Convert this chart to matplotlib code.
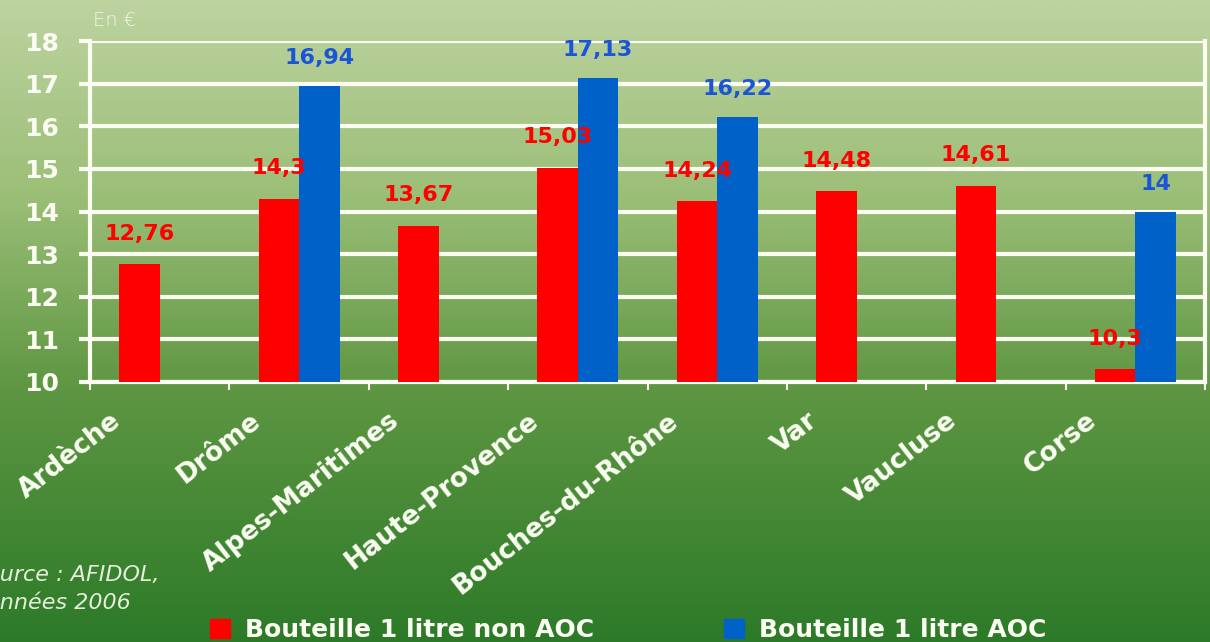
import numpy as np
import matplotlib.pyplot as plt
from matplotlib.colors import LinearSegmentedColormap
from matplotlib.patches import Patch

# Prix moyen d'une bouteille d'huile d'olive (en €) par département
departements = ['Ardèche', 'Drôme', 'Alpes-Maritimes', 'Haute-Provence',
                'Bouches-du-Rhône', 'Var', 'Vaucluse', 'Corse']
non_aoc = [12.76, 14.3, 13.67, 15.03, 14.24, 14.48, 14.61, 10.3]
aoc = [None, 16.94, None, 17.13, 16.22, None, None, 14]
non_aoc_labels = ['12,76', '14,3', '13,67', '15,03', '14,24', '14,48', '14,61', '10,3']
aoc_labels = [None, '16,94', None, '17,13', '16,22', None, None, '14']
y_ticks = [10, 11, 12, 13, 14, 15, 16, 17, 18]

RED = '#ff0000'
BLUE = '#0062c8'
WHITE = '#fbfdf2'

fig = plt.figure(figsize=(12.10, 6.42), dpi=100)

# Fond dégradé vert
bg = fig.add_axes([0, 0, 1, 1], zorder=-10)
cmap = LinearSegmentedColormap.from_list(
    'vert', [(0.0, '#bdd3a0'), (0.3, '#9cbf78'), (0.6, '#5f9743'), (1.0, '#2c7a28')])
grad = np.linspace(0, 1, 256).reshape(-1, 1)
bg.imshow(grad, aspect='auto', cmap=cmap, extent=[0, 1, 0, 1], origin='upper')
bg.axis('off')

ax = fig.add_axes([0.0744, 0.405, 0.9216, 0.531])
ax.patch.set_alpha(0)

x = np.arange(len(departements))
w = 0.29
ax.bar(x - w / 2, non_aoc, width=w, color=RED, zorder=3)
aoc_vals = [v if v is not None else 0 for v in aoc]
ax.bar(x + w / 2, aoc_vals, width=w, color=BLUE, zorder=3)

# Etiquettes de valeurs
for i, (v, lab) in enumerate(zip(non_aoc, non_aoc_labels)):
    ax.annotate(lab, (x[i] - w / 2, v), xytext=(0, 22), textcoords='offset points',
                ha='center', va='center', color=RED, fontsize=16, fontweight='heavy', zorder=5)
for i, (v, lab) in enumerate(zip(aoc, aoc_labels)):
    if v is None:
        continue
    ax.annotate(lab, (x[i] + w / 2, v), xytext=(0, 20), textcoords='offset points',
                ha='center', va='center', color='#1a55d8', fontsize=16, fontweight='heavy', zorder=5)

ax.set_xlim(-0.5, len(departements) - 0.5)
ax.set_ylim(10, 18)
ax.set_yticks(y_ticks)
ax.set_yticklabels([str(t) for t in y_ticks], fontsize=18, fontweight='heavy', color=WHITE)
ax.yaxis.grid(True, color=WHITE, linewidth=3, zorder=1)
ax.tick_params(axis='y', length=8, width=3, color=WHITE, pad=14)

# Graduations entre catégories
ax.set_xticks(np.arange(-0.5, len(departements)), minor=True)
ax.set_xticks([])
ax.tick_params(axis='x', which='minor', length=6, width=1.5, color=WHITE, direction='out')
for s in ['left', 'bottom', 'right', 'top']:
    ax.spines[s].set_color(WHITE)
    ax.spines[s].set_linewidth(3)
ax.spines['top'].set_visible(False)

# Noms des départements
for i, nom in enumerate(departements):
    ax.annotate(nom, (x[i], 0), xycoords=('data', 'axes fraction'),
                xytext=(-30, -26), textcoords='offset points',
                rotation=38, ha='right', va='center', rotation_mode='anchor',
                color=WHITE, fontsize=19, fontweight='heavy')

fig.text(0.077, 0.968, 'En €', color='#f2f6e6', fontsize=14, fontweight='light',
         ha='left', va='center')
fig.text(-0.0235, 0.045, 'Source : AFIDOL,\ndonnées 2006', color='#e6eedc', fontsize=16,
         style='italic', ha='left', va='bottom', linespacing=1.5)

handles = [Patch(color=RED), Patch(color=BLUE)]
fig.legend(handles, ['Bouteille 1 litre non AOC', 'Bouteille 1 litre AOC'],
           loc='lower left', bbox_to_anchor=(0.155, -0.035), ncol=2, frameon=False,
           prop={'weight': 'heavy', 'size': 18}, labelcolor=WHITE,
           handlelength=0.8, handleheight=0.8, handletextpad=0.6, columnspacing=5.2)

fig.savefig('out.png', dpi=100)
